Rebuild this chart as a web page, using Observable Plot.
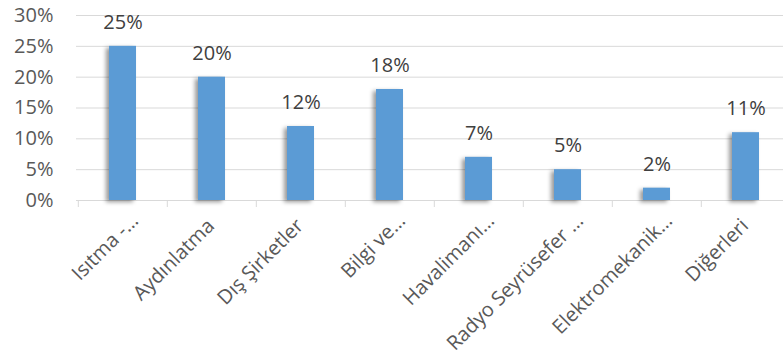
<!DOCTYPE html>
<html>
<head>
<meta charset="utf-8">
<script src="https://cdn.jsdelivr.net/npm/d3@7"></script>
<script src="https://cdn.jsdelivr.net/npm/@observablehq/plot@0.6"></script>
<style>
  html, body { margin: 0; padding: 0; background: #fff; }
  g[aria-label="bar"] rect { filter: drop-shadow(-3px 2px 2px rgba(0,0,0,0.4)); }
</style>
</head>
<body>
<div id="chart"></div>
<script>
const categories = ["Isıtma -…", "Aydınlatma", "Dış Şirketler", "Bilgi ve…", "Havalimanı…", "Radyo Seyrüsefer …", "Elektromekanik…", "Diğerleri"];
const values = [25, 20, 12, 18, 7, 5, 2, 11];
const yTicks = [0, 5, 10, 15, 20, 25, 30];

const data = categories.map((c, i) => ({category: c, value: values[i]}));

const W = 783, H = 356;
const left = 76, bandRight = 791;
const step = (bandRight - left) / categories.length;
const truncated = d => d.endsWith("…");

const chart = Plot.plot({
  width: W,
  height: H,
  marginLeft: left,
  marginRight: 0,
  marginTop: 15,
  marginBottom: 156,
  style: {fontFamily: "'Open Sans', sans-serif", fontSize: "20px", background: "#fff", overflow: "visible"},
  x: {domain: categories, range: [left, bandRight], paddingInner: 0.7, paddingOuter: 0.35, axis: null},
  y: {domain: [0, 30], axis: null},
  marks: [
    Plot.ruleY(yTicks, {y: d => d, stroke: "#d9d9d9", strokeWidth: 1}),
    Plot.ruleX(categories, {x: d => d, y1: 0, y2: 0, insetBottom: -7, dx: -step / 2, stroke: "#d9d9d9", strokeWidth: 1}),
    Plot.axisY(yTicks, {tickSize: 0, tickPadding: 23, tickFormat: d => d + "%", fill: "#595959", fontSize: 20, label: null}),
    Plot.barY(data, {x: "category", y: "value", fill: "#5b9bd5"}),
    Plot.text(data, {x: "category", y: "value", text: d => d.value + "%", dy: -24, fill: "#404040", fontSize: 20}),
    Plot.text(data.filter(d => !truncated(d.category)), {x: "category", y: () => 0, text: "category", rotate: -45, textAnchor: "end", dx: -1, dy: 22, fill: "#595959", fontSize: 20}),
    Plot.text(data.filter(d => truncated(d.category)), {x: "category", y: () => 0, text: "category", rotate: -45, textAnchor: "end", dx: 12, dy: 17, fill: "#595959", fontSize: 20})
  ]
});
document.getElementById("chart").appendChild(chart);
</script>
</body>
</html>
